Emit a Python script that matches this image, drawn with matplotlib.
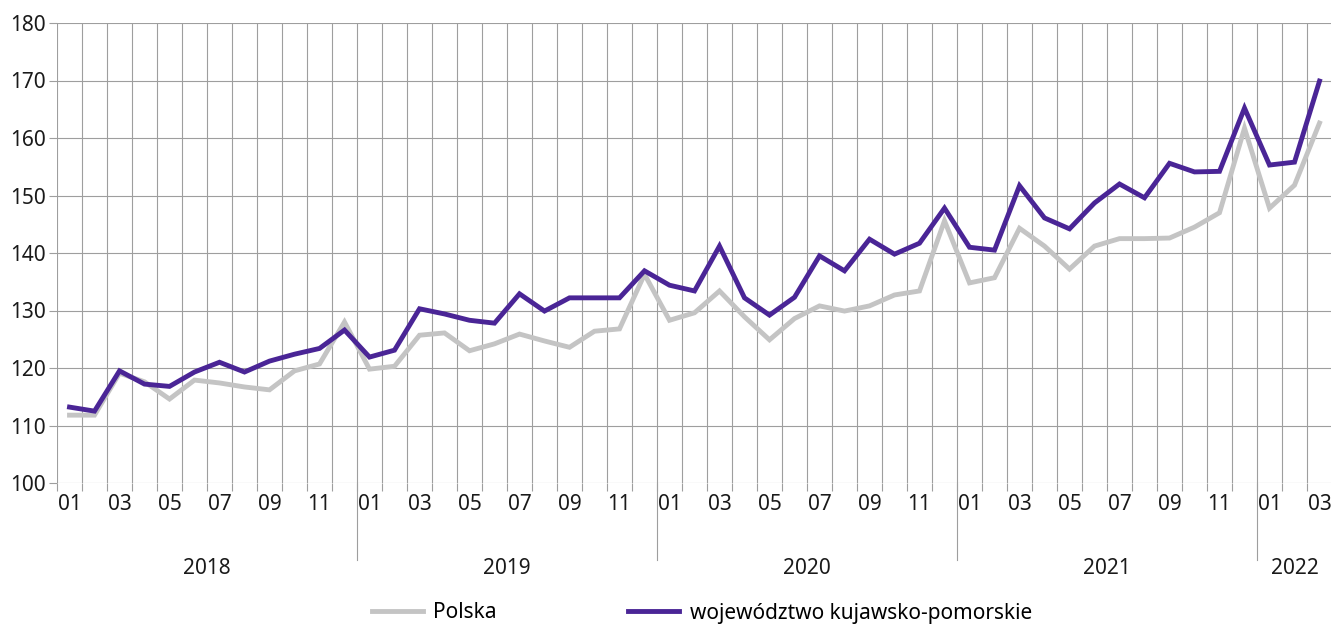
import matplotlib
matplotlib.use('Agg')
import matplotlib.pyplot as plt
import matplotlib.transforms as mtransforms
import numpy as np

plt.rcParams['font.family'] = ['Noto Sans', 'DejaVu Sans']

# dane: 2018-01 .. 2022-03
years = ['2018', '2019', '2020', '2021', '2022']
months_per_year = [12, 12, 12, 12, 3]

polska = [111.8, 111.8, 119.1, 117.6, 114.6, 117.9, 117.4, 116.7, 116.2, 119.5, 120.7, 128.0,
          119.8, 120.3, 125.7, 126.1, 123.0, 124.2, 125.9, 124.7, 123.6, 126.4, 126.8, 136.3,
          128.3, 129.6, 133.4, 128.9, 124.9, 128.6, 130.8, 129.9, 130.8, 132.7, 133.4, 145.6,
          134.8, 135.7, 144.3, 141.2, 137.2, 141.2, 142.5, 142.5, 142.6, 144.5, 147.0, 161.7,
          147.8, 151.8, 162.6]
kujawsko = [113.2, 112.5, 119.5, 117.2, 116.8, 119.3, 121.0, 119.3, 121.2, 122.4, 123.4, 126.6,
            121.9, 123.1, 130.3, 129.4, 128.3, 127.8, 132.9, 129.9, 132.2, 132.2, 132.2, 136.9,
            134.4, 133.4, 141.2, 132.2, 129.2, 132.3, 139.5, 136.9, 142.4, 139.8, 141.7, 147.8,
            141.0, 140.5, 151.7, 146.1, 144.2, 148.7, 152.0, 149.6, 155.6, 154.1, 154.2, 165.2,
            155.3, 155.8, 169.9]

# etykiety miesiecy
month_labels = []
for n in months_per_year:
    for m in range(1, n + 1):
        month_labels.append(f'{m:02d}' if m % 2 == 1 else '')

x = np.arange(len(polska))

fig = plt.figure(figsize=(13.31, 6.30), dpi=100)
ax = fig.add_axes([57 / 1331, 147 / 630, 1275 / 1331, 460 / 630])

grid_col = '#9e9e9e'
ax.plot(x, polska, color='#c4c4c4', lw=3.5, solid_joinstyle='miter', label='Polska', zorder=3)
ax.plot(x, kujawsko, color='#4a2596', lw=3.5, solid_joinstyle='miter',
        label='województwo kujawsko-pomorskie', zorder=4)

ax.set_xlim(-0.5, len(x) - 0.5)
ax.set_ylim(100, 180)
ax.set_yticks(np.arange(100, 181, 10))

# miesiace: etykiety w srodku, kreski na granicach
ax.set_xticks(x)
ax.set_xticklabels(month_labels)
ax.set_xticks(np.arange(-0.5, len(x) + 0.5, 1), minor=True)
ax.tick_params(axis='x', which='major', length=0, pad=8, labelsize=15, colors='#1a1a1a')
ax.tick_params(axis='x', which='minor', length=6, width=0.8, color=grid_col)
ax.tick_params(axis='y', length=6, width=0.8, color=grid_col, labelsize=15, pad=2,
               labelcolor='#1a1a1a')

ax.grid(True, which='minor', axis='x', color=grid_col, lw=0.8)
ax.grid(True, which='major', axis='y', color=grid_col, lw=0.8)
for s in ax.spines.values():
    s.set_visible(False)

# separatory lat i etykiety lat
trans = mtransforms.blended_transform_factory(ax.transData, ax.transAxes)
start = 0
for i, (yr, n) in enumerate(zip(years, months_per_year)):
    ax.text(start + (n - 1) / 2, -0.185, yr, transform=trans, ha='center', va='center',
            fontsize=15, color='#1a1a1a')
    if i > 0:
        ax.plot([start - 0.5, start - 0.5], [0, -0.167], transform=trans, color=grid_col,
                lw=0.8, clip_on=False)
    start += n

fig.legend(loc='center', bbox_to_anchor=(702 / 1331, 1 - 613 / 630), ncol=2, frameon=False,
           fontsize=15, handlelength=2.45, columnspacing=6.3, handletextpad=0.5)

fig.savefig('out.png', dpi=100)
